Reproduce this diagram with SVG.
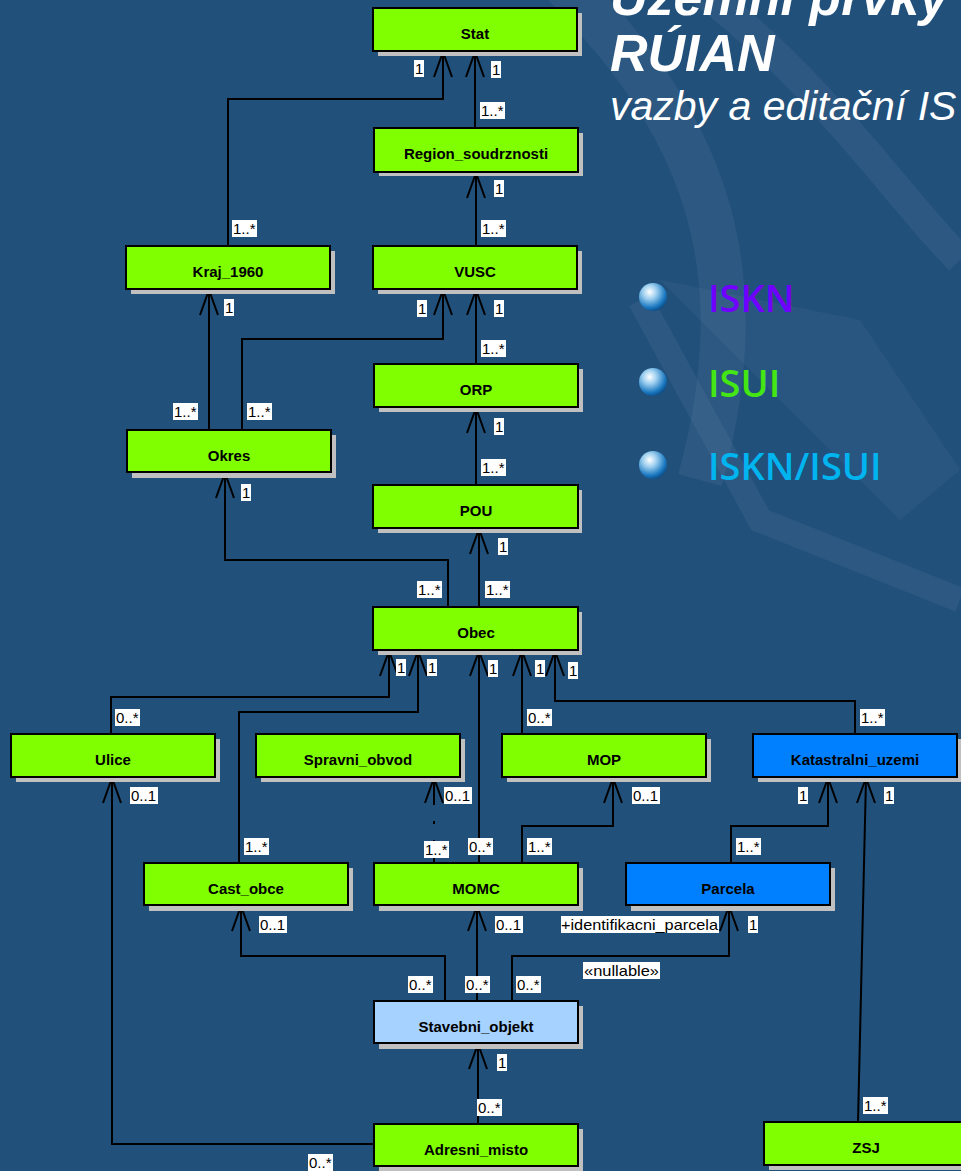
<svg xmlns="http://www.w3.org/2000/svg" width="961" height="1171" viewBox="0 0 961 1171">
<defs>
<style>
.node{fill:#80ff00;stroke:#000;stroke-width:2}
.blue{fill:#0080ff}
.lblue{fill:#a6d2ff}
.sh{fill:#c0c0c0}
.nt{font-family:"Liberation Sans",Arial,sans-serif;font-weight:bold;font-size:15px;fill:#000;text-anchor:middle}
.ln{fill:none;stroke:#000;stroke-width:2}
.lb{fill:#fff}
.lt{font-family:"Liberation Sans",Arial,sans-serif;font-size:15px;fill:#000}
.title{font-family:"Liberation Sans",Arial,sans-serif;font-weight:bold;font-style:italic;font-size:52px;fill:#fff}
.leg{font-family:"Open Sans","Noto Sans",sans-serif;font-size:38px;font-weight:600}
.wm{fill:none;stroke:#fff;stroke-opacity:0.05}
</style>
<radialGradient id="ball" cx="0.38" cy="0.32" r="0.7">
<stop offset="0" stop-color="#ffffff"/>
<stop offset="0.35" stop-color="#9fd0f0"/>
<stop offset="0.8" stop-color="#1a78c0"/>
<stop offset="1" stop-color="#0d4f8a"/>
</radialGradient>
</defs>
<rect x="0" y="0" width="961" height="1171" fill="#21507b"/>
<g id="watermark">
<path class="wm" stroke-width="45" d="M560,-20 C700,120 760,260 700,480"/>
<path class="wm" stroke-width="30" d="M700,-10 C820,80 900,200 960,260"/>
<path class="wm" stroke-width="25" d="M640,300 L760,520 L960,600"/>
<path d="M660,280 L860,320 L960,470 L900,520 Z" fill="#fff" fill-opacity="0.04"/>
</g>
<g id="title">
<text class="title" x="610" y="15">Územní prvky</text>
<text class="title" x="610" y="71">RÚIAN</text>
<text x="610" y="120" font-family="Liberation Sans,Arial,sans-serif" font-style="italic" font-size="41" fill="#fff">vazby a editační IS</text>
</g>
<g id="legend">
<circle cx="653" cy="297" r="14" fill="url(#ball)"/>
<circle cx="653" cy="382" r="14" fill="url(#ball)"/>
<circle cx="653" cy="465" r="14" fill="url(#ball)"/>
<text class="leg" x="708" y="312" fill="#7000ff">ISKN</text>
<text class="leg" x="708" y="397" fill="#44e614">ISUI</text>
<text class="leg" x="708" y="480" fill="#00b4f0">ISKN/ISUI</text>
</g>
<g id="connectors">
<polyline class="ln" points="228,246 228,99 443,99 443,52"/>
<path class="ln" d="M434,77 L443,52 L452,77"/>
<polyline class="ln" points="475,128 475,52"/>
<path class="ln" d="M466,77 L475,52 L484,77"/>
<polyline class="ln" points="476,246 476,173"/>
<path class="ln" d="M467,198 L476,173 L485,198"/>
<polyline class="ln" points="476,364 476,290"/>
<path class="ln" d="M467,315 L476,290 L485,315"/>
<polyline class="ln" points="242,430 242,339 443,339 443,290"/>
<path class="ln" d="M434,315 L443,290 L452,315"/>
<polyline class="ln" points="209,430 209,290"/>
<path class="ln" d="M200,315 L209,290 L218,315"/>
<polyline class="ln" points="476,485 476,408"/>
<path class="ln" d="M467,433 L476,408 L485,433"/>
<polyline class="ln" points="479,607 479,529"/>
<path class="ln" d="M470,554 L479,529 L488,554"/>
<polyline class="ln" points="448,607 448,560 225,560 225,473"/>
<path class="ln" d="M216,498 L225,473 L234,498"/>
<polyline class="ln" points="111,734 111,697 389,697 389,651"/>
<path class="ln" d="M380,676 L389,651 L398,676"/>
<polyline class="ln" points="239,863 239,712 418,712 418,651"/>
<path class="ln" d="M409,676 L418,651 L427,676"/>
<polyline class="ln" points="479,863 479,651"/>
<path class="ln" d="M470,676 L479,651 L488,676"/>
<polyline class="ln" points="522,734 522,651"/>
<path class="ln" d="M513,676 L522,651 L531,676"/>
<polyline class="ln" points="855,734 855,701 555,701 555,651"/>
<path class="ln" d="M546,676 L555,651 L564,676"/>
<polyline class="ln" points="434,805 434,778"/>
<polyline class="ln" points="434,821 434,824"/>
<polyline class="ln" points="434,840 434,863"/>
<path class="ln" d="M425,803 L434,778 L443,803"/>
<polyline class="ln" points="522,863 522,826 613,826 613,778"/>
<path class="ln" d="M604,803 L613,778 L622,803"/>
<polyline class="ln" points="731,863 731,826 828,826 828,778"/>
<path class="ln" d="M819,803 L828,778 L837,803"/>
<polyline class="ln" points="858,1122 866,778"/>
<path class="ln" d="M857,803 L866,778 L875,803"/>
<polyline class="ln" points="445,1001 445,956 241,956 241,906"/>
<path class="ln" d="M232,931 L241,906 L250,931"/>
<polyline class="ln" points="477,1001 477,906"/>
<path class="ln" d="M468,931 L477,906 L486,931"/>
<polyline class="ln" points="512,1001 512,956 729,956 729,906"/>
<path class="ln" d="M720,931 L729,906 L738,931"/>
<polyline class="ln" points="478,1124 478,1044"/>
<path class="ln" d="M469,1069 L478,1044 L487,1069"/>
<polyline class="ln" points="374,1144 112,1144 112,778"/>
<path class="ln" d="M103,803 L112,778 L121,803"/>
</g>
<g id="labels">
<rect class="lb" x="414" y="60" width="10" height="17"/><text class="lt" x="415" y="74">1</text>
<rect class="lb" x="491" y="61" width="10" height="17"/><text class="lt" x="492" y="75">1</text>
<rect class="lb" x="480" y="102" width="25" height="17"/><text class="lt" x="481" y="116">1..*</text>
<rect class="lb" x="232" y="220" width="25" height="17"/><text class="lt" x="233" y="234">1..*</text>
<rect class="lb" x="494" y="180" width="10" height="17"/><text class="lt" x="495" y="194">1</text>
<rect class="lb" x="481" y="220" width="25" height="17"/><text class="lt" x="482" y="234">1..*</text>
<rect class="lb" x="417" y="300" width="10" height="17"/><text class="lt" x="418" y="314">1</text>
<rect class="lb" x="494" y="300" width="10" height="17"/><text class="lt" x="495" y="314">1</text>
<rect class="lb" x="481" y="340" width="25" height="17"/><text class="lt" x="482" y="354">1..*</text>
<rect class="lb" x="224" y="299" width="10" height="17"/><text class="lt" x="225" y="313">1</text>
<rect class="lb" x="173" y="403" width="25" height="17"/><text class="lt" x="174" y="417">1..*</text>
<rect class="lb" x="247" y="403" width="25" height="17"/><text class="lt" x="248" y="417">1..*</text>
<rect class="lb" x="241" y="484" width="10" height="17"/><text class="lt" x="242" y="498">1</text>
<rect class="lb" x="494" y="418" width="10" height="17"/><text class="lt" x="495" y="432">1</text>
<rect class="lb" x="481" y="459" width="25" height="17"/><text class="lt" x="482" y="473">1..*</text>
<rect class="lb" x="498" y="538" width="10" height="17"/><text class="lt" x="499" y="552">1</text>
<rect class="lb" x="485" y="581" width="25" height="17"/><text class="lt" x="486" y="595">1..*</text>
<rect class="lb" x="417" y="581" width="25" height="17"/><text class="lt" x="418" y="595">1..*</text>
<rect class="lb" x="396" y="659" width="10" height="17"/><text class="lt" x="397" y="673">1</text>
<rect class="lb" x="427" y="659" width="10" height="17"/><text class="lt" x="428" y="673">1</text>
<rect class="lb" x="488" y="660" width="10" height="17"/><text class="lt" x="489" y="674">1</text>
<rect class="lb" x="535" y="660" width="10" height="17"/><text class="lt" x="536" y="674">1</text>
<rect class="lb" x="568" y="662" width="10" height="17"/><text class="lt" x="569" y="676">1</text>
<rect class="lb" x="115" y="709" width="25" height="17"/><text class="lt" x="116" y="723">0..*</text>
<rect class="lb" x="527" y="709" width="25" height="17"/><text class="lt" x="528" y="723">0..*</text>
<rect class="lb" x="860" y="709" width="25" height="17"/><text class="lt" x="861" y="723">1..*</text>
<rect class="lb" x="130" y="787" width="28" height="17"/><text class="lt" x="131" y="801">0..1</text>
<rect class="lb" x="444" y="787" width="28" height="17"/><text class="lt" x="445" y="801">0..1</text>
<rect class="lb" x="632" y="787" width="28" height="17"/><text class="lt" x="633" y="801">0..1</text>
<rect class="lb" x="798" y="787" width="10" height="17"/><text class="lt" x="799" y="801">1</text>
<rect class="lb" x="884" y="787" width="10" height="17"/><text class="lt" x="885" y="801">1</text>
<rect class="lb" x="244" y="838" width="25" height="17"/><text class="lt" x="245" y="852">1..*</text>
<rect class="lb" x="424" y="841" width="25" height="17"/><text class="lt" x="425" y="855">1..*</text>
<rect class="lb" x="468" y="838" width="25" height="17"/><text class="lt" x="469" y="852">0..*</text>
<rect class="lb" x="527" y="838" width="25" height="17"/><text class="lt" x="528" y="852">1..*</text>
<rect class="lb" x="736" y="838" width="25" height="17"/><text class="lt" x="737" y="852">1..*</text>
<rect class="lb" x="259" y="916" width="28" height="17"/><text class="lt" x="260" y="930">0..1</text>
<rect class="lb" x="495" y="916" width="28" height="17"/><text class="lt" x="496" y="930">0..1</text>
<rect class="lb" x="561" y="916" width="158" height="17"/><text class="lt" x="561" y="930" textLength="157" lengthAdjust="spacingAndGlyphs">+identifikacni_parcela</text>
<rect class="lb" x="748" y="916" width="10" height="17"/><text class="lt" x="749" y="930">1</text>
<rect class="lb" x="583" y="962" width="77" height="17"/><text class="lt" x="584" y="976" textLength="75" lengthAdjust="spacingAndGlyphs">«nullable»</text>
<rect class="lb" x="408" y="976" width="25" height="17"/><text class="lt" x="409" y="990">0..*</text>
<rect class="lb" x="465" y="976" width="25" height="17"/><text class="lt" x="466" y="990">0..*</text>
<rect class="lb" x="516" y="976" width="25" height="17"/><text class="lt" x="517" y="990">0..*</text>
<rect class="lb" x="497" y="1054" width="10" height="17"/><text class="lt" x="498" y="1068">1</text>
<rect class="lb" x="477" y="1099" width="25" height="17"/><text class="lt" x="478" y="1113">0..*</text>
<rect class="lb" x="308" y="1154" width="25" height="17"/><text class="lt" x="309" y="1168">0..*</text>
<rect class="lb" x="863" y="1097" width="25" height="17"/><text class="lt" x="864" y="1111">1..*</text>
</g>
<g id="Stat"><rect class="sh" x="378" y="13" width="204" height="43"/><rect class="node" x="373" y="8" width="204" height="43"/><text class="nt" x="475" y="39">Stat</text></g>
<g id="Region_soudrznosti"><rect class="sh" x="379" y="133" width="204" height="43"/><rect class="node" x="374" y="128" width="204" height="44"/><text class="nt" x="476" y="159">Region_soudrznosti</text></g>
<g id="Kraj_1960"><rect class="sh" x="131" y="251" width="204" height="43"/><rect class="node" x="126" y="246" width="204" height="43"/><text class="nt" x="228" y="277">Kraj_1960</text></g>
<g id="VUSC"><rect class="sh" x="378" y="251" width="204" height="43"/><rect class="node" x="373" y="246" width="204" height="43"/><text class="nt" x="475" y="277">VUSC</text></g>
<g id="ORP"><rect class="sh" x="379" y="369" width="204" height="43"/><rect class="node" x="374" y="364" width="204" height="43"/><text class="nt" x="476" y="395">ORP</text></g>
<g id="Okres"><rect class="sh" x="132" y="435" width="204" height="43"/><rect class="node" x="127" y="430" width="204" height="42"/><text class="nt" x="229" y="461">Okres</text></g>
<g id="POU"><rect class="sh" x="378" y="490" width="204" height="43"/><rect class="node" x="373" y="485" width="205" height="43"/><text class="nt" x="476" y="516">POU</text></g>
<g id="Obec"><rect class="sh" x="378" y="612" width="204" height="43"/><rect class="node" x="373" y="607" width="205" height="43"/><text class="nt" x="476" y="638">Obec</text></g>
<g id="Ulice"><rect class="sh" x="16" y="739" width="204" height="43"/><rect class="node" x="11" y="734" width="204" height="43"/><text class="nt" x="113" y="765">Ulice</text></g>
<g id="Spravni_obvod"><rect class="sh" x="261" y="739" width="204" height="43"/><rect class="node" x="256" y="734" width="204" height="43"/><text class="nt" x="358" y="765">Spravni_obvod</text></g>
<g id="MOP"><rect class="sh" x="507" y="739" width="204" height="43"/><rect class="node" x="502" y="734" width="204" height="43"/><text class="nt" x="604" y="765">MOP</text></g>
<g id="Katastralni_uzemi"><rect class="sh" x="758" y="739" width="204" height="43"/><rect class="node blue" x="753" y="734" width="204" height="43"/><text class="nt" x="855" y="765">Katastralni_uzemi</text></g>
<g id="Cast_obce"><rect class="sh" x="149" y="868" width="204" height="43"/><rect class="node" x="144" y="863" width="204" height="42"/><text class="nt" x="246" y="894">Cast_obce</text></g>
<g id="MOMC"><rect class="sh" x="379" y="868" width="204" height="43"/><rect class="node" x="374" y="863" width="204" height="42"/><text class="nt" x="476" y="894">MOMC</text></g>
<g id="Parcela"><rect class="sh" x="631" y="868" width="204" height="43"/><rect class="node blue" x="626" y="863" width="204" height="42"/><text class="nt" x="728" y="894">Parcela</text></g>
<g id="Stavebni_objekt"><rect class="sh" x="379" y="1006" width="204" height="43"/><rect class="node lblue" x="374" y="1001" width="204" height="42"/><text class="nt" x="476" y="1032">Stavebni_objekt</text></g>
<g id="Adresni_misto"><rect class="sh" x="379" y="1129" width="204" height="43"/><rect class="node" x="374" y="1124" width="204" height="42"/><text class="nt" x="476" y="1155">Adresni_misto</text></g>
<g id="ZSJ"><rect class="sh" x="769" y="1127" width="204" height="43"/><rect class="node" x="764" y="1122" width="204" height="43"/><text class="nt" x="866" y="1153">ZSJ</text></g>
</svg>
